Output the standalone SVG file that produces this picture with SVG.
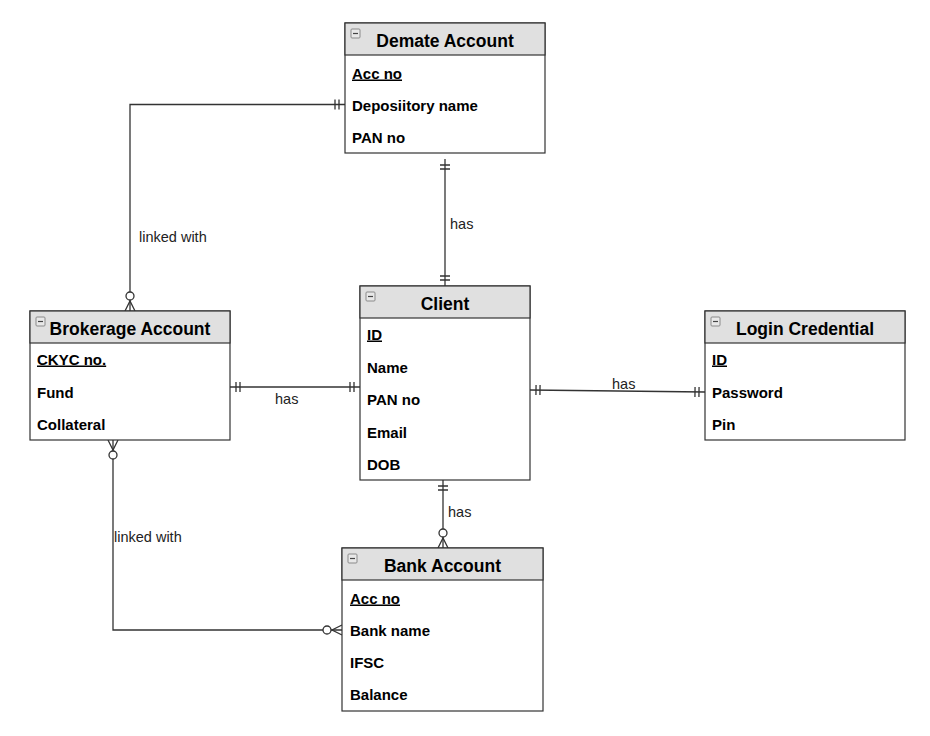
<svg xmlns="http://www.w3.org/2000/svg" width="930" height="736" viewBox="0 0 930 736">
<style>
.box{fill:#ffffff;stroke:#333333;stroke-width:1.2}
.hdr{fill:#e0e0e0;stroke:#333333;stroke-width:1.2}
.title{font-family:"Liberation Sans",Arial,sans-serif;font-weight:bold;font-size:17.5px;fill:#000;text-anchor:middle}
.attr{font-family:"Liberation Sans",Arial,sans-serif;font-weight:bold;font-size:15px;fill:#000}
.key{text-decoration:underline}
.lbl{font-family:"Liberation Sans",Arial,sans-serif;font-size:14.5px;fill:#222}
.conn{fill:none;stroke:#333333;stroke-width:1.3}
.ico{fill:#e8e8e8;stroke:#8a8a8a;stroke-width:1}
.icm{stroke:#444;stroke-width:1.2}
</style>
<defs>
<marker id="one" markerUnits="userSpaceOnUse" viewBox="-14 -7 16 14" refX="0" refY="0" markerWidth="16" markerHeight="14" orient="auto-start-reverse" overflow="visible">
<path d="M-6,-5 V5 M-10,-5 V5" fill="none" stroke="#333333" stroke-width="1.3"/>
</marker>
<marker id="many" markerUnits="userSpaceOnUse" viewBox="-22 -7 24 14" refX="0" refY="0" markerWidth="24" markerHeight="14" orient="auto-start-reverse" overflow="visible">
<path d="M0,-5 L-10,0 L0,5" fill="none" stroke="#333333" stroke-width="1.3"/>
<circle cx="-15" cy="0" r="4" fill="#ffffff" stroke="#333333" stroke-width="1.3"/>
</marker>
</defs>
<rect width="930" height="736" fill="#ffffff"/>

<g id="connectors">
<path class="conn" d="M345,104.5 H130 V311" marker-start="url(#one)" marker-end="url(#many)"/>
<text class="lbl" x="139" y="242">linked with</text>
<path class="conn" d="M445,159 V286" marker-start="url(#one)" marker-end="url(#one)"/>
<text class="lbl" x="450" y="229">has</text>
<path class="conn" d="M230,387 H360" marker-start="url(#one)" marker-end="url(#one)"/>
<text class="lbl" x="275" y="404">has</text>
<path class="conn" d="M530,390 L705,392" marker-start="url(#one)" marker-end="url(#one)"/>
<text class="lbl" x="612" y="389">has</text>
<path class="conn" d="M443,480 V548" marker-start="url(#one)" marker-end="url(#many)"/>
<text class="lbl" x="448" y="517">has</text>
<path class="conn" d="M113,440 V630 H342" marker-start="url(#many)" marker-end="url(#many)"/>
<text class="lbl" x="114" y="542">linked with</text>
</g>

<g id="demate">
<rect class="box" x="345" y="23" width="200" height="130"/>
<rect class="hdr" x="345" y="23" width="200" height="32"/>
<rect class="ico" x="351" y="29" width="9" height="9" rx="1"/>
<line class="icm" x1="353" y1="33.5" x2="358" y2="33.5"/>
<text class="title" x="445" y="47">Demate Account</text>
<text class="attr key" x="352" y="78.5">Acc no</text>
<text class="attr" x="352" y="110.5">Deposiitory name</text>
<text class="attr" x="352" y="143">PAN no</text>
</g>

<g id="client">
<rect class="box" x="360" y="286" width="170" height="194"/>
<rect class="hdr" x="360" y="286" width="170" height="32"/>
<rect class="ico" x="366" y="292" width="9" height="9" rx="1"/>
<line class="icm" x1="368" y1="296.5" x2="373" y2="296.5"/>
<text class="title" x="445" y="310">Client</text>
<text class="attr key" x="367" y="339.5">ID</text>
<text class="attr" x="367" y="372.5">Name</text>
<text class="attr" x="367" y="404.5">PAN no</text>
<text class="attr" x="367" y="437.5">Email</text>
<text class="attr" x="367" y="469.5">DOB</text>
</g>

<g id="brokerage">
<rect class="box" x="30" y="311" width="200" height="129"/>
<rect class="hdr" x="30" y="311" width="200" height="32"/>
<rect class="ico" x="36" y="317" width="9" height="9" rx="1"/>
<line class="icm" x1="38" y1="321.5" x2="43" y2="321.5"/>
<text class="title" x="130" y="335">Brokerage Account</text>
<text class="attr key" x="37" y="364.5">CKYC no.</text>
<text class="attr" x="37" y="397.5">Fund</text>
<text class="attr" x="37" y="429.5">Collateral</text>
</g>

<g id="login">
<rect class="box" x="705" y="311" width="200" height="129"/>
<rect class="hdr" x="705" y="311" width="200" height="32"/>
<rect class="ico" x="711" y="317" width="9" height="9" rx="1"/>
<line class="icm" x1="713" y1="321.5" x2="718" y2="321.5"/>
<text class="title" x="805" y="335">Login Credential</text>
<text class="attr key" x="712" y="364.5">ID</text>
<text class="attr" x="712" y="397.5">Password</text>
<text class="attr" x="712" y="429.5">Pin</text>
</g>

<g id="bank">
<rect class="box" x="342" y="548" width="201" height="163"/>
<rect class="hdr" x="342" y="548" width="201" height="32"/>
<rect class="ico" x="348" y="554" width="9" height="9" rx="1"/>
<line class="icm" x1="350" y1="558.5" x2="355" y2="558.5"/>
<text class="title" x="442.5" y="572">Bank Account</text>
<text class="attr key" x="350" y="603.5">Acc no</text>
<text class="attr" x="350" y="635.5">Bank name</text>
<text class="attr" x="350" y="667.5">IFSC</text>
<text class="attr" x="350" y="699.5">Balance</text>
</g>
</svg>
